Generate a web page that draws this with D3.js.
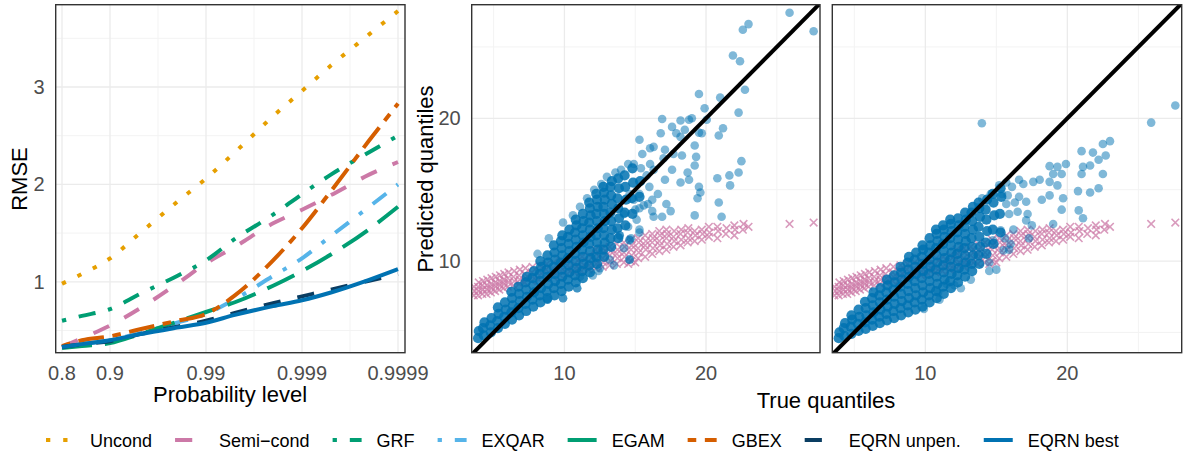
<!DOCTYPE html>
<html><head><meta charset="utf-8">
<script src="https://cdn.jsdelivr.net/npm/d3@7"></script>
<style>body{margin:0;background:#fff;} svg{display:block;font-family:"Liberation Sans",Arial,sans-serif;}</style>
</head><body><svg id="c" width="1186" height="455"></svg>
<script>
// ---------------- DATA ----------------
const levels = [0.8, 0.85, 0.9, 0.95, 0.98, 0.99, 0.995, 0.998, 0.999, 0.9995, 0.9998, 0.9999];
const seriesNames = ["Uncond", "Semi\u2212cond", "GRF", "EXQAR", "EGAM", "GBEX", "EQRN unpen.", "EQRN best"];
const uncond    = [0.98, 1.08, 1.24, 1.49, 1.82, 2.06, 2.33, 2.70, 2.96, 3.22, 3.54, 3.78];
const semicond  = [0.33, 0.42, 0.55, 0.72, 0.98, 1.19, 1.36, 1.60, 1.74, 1.89, 2.10, 2.23];
const grf       = [0.60, 0.65, 0.72, 0.87, 1.06, 1.22, 1.44, 1.69, 1.90, 2.10, 2.33, 2.50];
const exqar     = [0.33, 0.36, 0.40, 0.47, 0.58, 0.67, 0.82, 1.06, 1.24, 1.47, 1.77, 2.00];
const egam      = [0.32, 0.34, 0.37, 0.46, 0.59, 0.69, 0.79, 0.96, 1.11, 1.28, 1.54, 1.77];
const gbex      = [0.34, 0.40, 0.44, 0.51, 0.60, 0.67, 0.86, 1.22, 1.55, 1.93, 2.45, 2.83];
const eqrnUnpen = [0.33, 0.36, 0.39, 0.46, 0.54, 0.60, 0.68, 0.78, 0.85, 0.92, 1.01, 1.08];
const eqrnBest  = [0.33, 0.36, 0.40, 0.46, 0.53, 0.58, 0.66, 0.75, 0.81, 0.89, 1.02, 1.13];

const probTicks = [0.8, 0.9, 0.99, 0.999, 0.9999];
const probTickLabels = ["0.8", "0.9", "0.99", "0.999", "0.9999"];
const probMinor = [0.9683772, 0.9968377, 0.9996838];
const rmseTicks = [1, 2, 3];
const rmseMinor = [0.5, 1.5, 2.5, 3.5];
const qTicks = [10, 20];
const qMinor = [5, 15, 25];

// Semi-conditional predictions (true quantile, predicted quantile), shared by both panels
const semiPoints = [
[3.6,7.6],[3.65,7.9],[3.6,8.2],[3.9,7.6],[3.95,7.9],[3.9,8.2],[3.95,8.5],
[4.2,7.7],[4.25,8.0],[4.2,8.3],[4.25,8.6],[4.5,7.7],[4.55,8.0],[4.5,8.3],[4.55,8.7],
[4.8,7.8],[4.85,8.1],[4.8,8.4],[4.85,8.8],[5.1,7.9],[5.15,8.2],[5.1,8.5],[5.15,8.9],
[5.4,8.0],[5.45,8.3],[5.4,8.6],[5.45,9.0],[5.7,8.1],[5.75,8.4],[5.7,8.7],[5.75,9.1],
[6.0,8.2],[6.05,8.5],[6.0,8.8],[6.05,9.2],[6.4,8.3],[6.45,8.6],[6.4,8.9],[6.45,9.3],
[6.8,8.4],[6.85,8.7],[6.8,9.0],[6.85,9.4],[7.2,8.5],[7.25,8.8],[7.2,9.1],[7.25,9.5],
[7.7,8.6],[7.75,8.9],[7.7,9.2],[7.75,9.6],[8.2,8.7],[8.25,9.0],[8.2,9.3],[8.25,9.7],
[8.7,8.8],[8.75,9.1],[8.7,9.4],[8.75,9.8],[9.2,8.9],[9.25,9.2],[9.2,9.5],[9.25,9.9],
[9.7,9.0],[9.75,9.3],[9.7,9.6],[9.75,10.0],[10.2,9.1],[10.25,9.4],[10.2,9.7],[10.25,10.1],
[10.7,9.2],[10.75,9.5],[10.7,9.8],[10.75,10.2],[11.2,9.3],[11.25,9.6],[11.2,9.9],[11.25,10.3],
[11.7,9.4],[11.75,9.7],[11.7,10.0],[11.75,10.4],[12.2,9.5],[12.25,9.8],[12.2,10.1],[12.25,10.5],[12.2,10.8],
[12.7,9.6],[12.75,9.9],[12.7,10.2],[12.75,10.6],[12.7,10.9],[13.2,9.7],[13.25,10.0],[13.2,10.4],[13.25,10.7],[13.2,11.0],
[13.7,9.8],[13.75,10.2],[13.7,10.5],[13.75,10.8],[13.7,11.2],[14.2,9.9],[14.25,10.3],[14.2,10.6],[14.25,11.0],[14.2,11.3],
[14.7,10.0],[14.75,10.4],[14.7,10.8],[14.75,11.1],[14.7,11.5],[15.2,10.2],[15.25,10.6],[15.2,10.9],[15.25,11.3],[15.2,11.6],
[15.7,10.3],[15.75,10.8],[15.7,11.1],[15.75,11.4],[15.7,11.8],[16.2,10.5],[16.25,10.9],[16.2,11.3],[16.25,11.6],[16.2,11.9],
[16.7,10.7],[16.75,11.1],[16.7,11.4],[16.75,11.8],[16.7,12.1],[17.2,10.8],[17.25,11.2],[17.2,11.6],[17.25,11.9],[17.2,12.2],
[17.7,11.0],[17.75,11.4],[17.7,11.7],[17.75,12.1],[18.2,11.1],[18.25,11.5],[18.2,11.9],[18.25,12.2],
[18.7,11.3],[18.75,11.6],[18.7,12.0],[18.75,12.3],[19.2,11.4],[19.25,11.8],[19.2,12.1],
[19.7,11.5],[19.75,11.9],[19.7,12.2],[20.2,11.7],[20.25,12.0],[20.2,12.4],[20.8,11.6],[20.85,12.1],[20.8,12.4],
[21.4,11.9],[21.45,12.3],[22.0,11.8],[22.05,12.2],[22.0,12.5],[22.6,12.2],[22.65,12.6],[23.0,12.4],
[14.5,9.8],[15.0,9.9],[25.9,12.6],[27.6,12.7]
];

// EQRN predictions, middle panel: dense core and scattered points
const midCore = [
[3.9,4.6],[3.95,5.1],[4.3,4.8],[4.25,5.3],[4.35,5.7],[4.8,5.0],[4.75,5.5],[4.85,6.0],
[5.3,5.3],[5.25,5.8],[5.35,6.3],[5.3,6.75],[5.8,5.6],[5.75,6.1],[5.85,6.6],[5.8,7.1],
[6.3,5.9],[6.25,6.4],[6.35,6.9],[6.3,7.4],[6.25,7.85],[6.8,6.2],[6.75,6.7],[6.85,7.2],[6.8,7.7],[6.75,8.2],
[7.3,6.5],[7.25,7.0],[7.35,7.5],[7.3,8.0],[7.25,8.5],[7.35,8.9],[7.8,6.8],[7.75,7.3],[7.85,7.8],[7.8,8.3],[7.75,8.8],[7.85,9.3],
[8.3,7.1],[8.25,7.6],[8.35,8.1],[8.3,8.6],[8.25,9.1],[8.35,9.6],[8.3,10.0],
[8.8,7.4],[8.75,7.9],[8.85,8.4],[8.8,8.9],[8.75,9.4],[8.85,9.9],[8.8,10.4],
[9.3,7.6],[9.25,8.1],[9.35,8.6],[9.3,9.1],[9.25,9.6],[9.35,10.1],[9.3,10.6],[9.25,11.1],
[9.8,7.9],[9.75,8.4],[9.85,8.9],[9.8,9.4],[9.75,9.9],[9.85,10.4],[9.8,10.9],[9.75,11.4],[9.85,11.8],
[10.3,8.2],[10.25,8.7],[10.35,9.2],[10.3,9.7],[10.25,10.2],[10.35,10.7],[10.3,11.2],[10.25,11.7],[10.35,12.2],
[10.8,8.5],[10.75,9.0],[10.85,9.5],[10.8,10.0],[10.75,10.5],[10.85,11.0],[10.8,11.5],[10.75,12.0],[10.85,12.5],[10.8,12.9],
[11.3,8.8],[11.25,9.3],[11.35,9.8],[11.3,10.3],[11.25,10.8],[11.35,11.3],[11.3,11.8],[11.25,12.3],[11.35,12.8],[11.3,13.3],
[11.8,9.2],[11.75,9.7],[11.85,10.2],[11.8,10.7],[11.75,11.2],[11.85,11.7],[11.8,12.2],[11.75,12.7],[11.85,13.2],[11.8,13.7],[11.75,14.1],
[12.3,9.8],[12.25,10.3],[12.35,10.8],[12.3,11.3],[12.25,11.8],[12.35,12.3],[12.3,12.8],[12.25,13.3],[12.35,13.8],[12.3,14.3],[12.25,14.7],
[12.8,10.3],[12.75,10.8],[12.85,11.3],[12.8,11.8],[12.75,12.3],[12.85,12.8],[12.8,13.3],[12.75,13.8],[12.85,14.3],[12.8,14.8],[12.75,15.2],
[13.3,11.0],[13.25,11.6],[13.35,12.2],[13.3,12.8],[13.25,13.4],[13.35,14.0],[13.3,14.6],[13.25,15.2],[13.35,15.6],
[13.8,11.6],[13.75,12.3],[13.85,13.0],[13.8,13.7],[13.75,14.4],[13.85,15.1],[13.8,15.8],
[14.3,12.5],[14.25,13.4],[14.35,14.3],[14.3,15.2],[14.25,16.0],[14.8,13.3],[14.75,14.4],[14.85,15.5],[14.8,16.5],
[15.3,14.5],[15.35,15.6]
];
const midSparse = [
[8.1,10.5],[8.9,11.6],[9.9,12.7],[10.6,13.2],[11.1,13.8],[11.6,14.4],[12.1,15.0],[12.6,15.4],[13.0,15.9],[13.6,16.2],
[14.0,16.4],[14.5,16.8],[14.9,16.8],[15.4,16.5],[15.8,16.0],[14.2,13.3],[14.9,14.3],[15.3,14.7],[16.0,15.2],[14.6,14.7],
[15.0,13.6],[15.6,13.9],[16.2,14.3],[14.5,12.4],[15.1,12.9],[11.1,8.9],[12.5,9.5],[13.5,9.7],[12.0,9.0],[13.2,10.1],
[14.2,10.9],[14.7,11.6],[15.3,12.2],[13.9,11.8],[14.6,11.45],[14.6,10.1],[10.9,8.1],[9.9,7.4],[8.8,7.3],
[25.9,27.4],[23.0,26.6],[22.6,26.2],[27.6,26.1],[21.9,24.4],[22.4,24.0],[22.75,22.0],[19.5,21.7],[21.0,21.45],[19.9,20.7],
[22.3,20.4],[16.9,19.95],[18.2,19.85],[18.8,19.9],[19.0,20.0],[20.05,19.9],[17.6,19.4],[21.2,19.3],[18.5,19.2],[16.8,18.95],
[17.9,18.95],[18.2,18.7],[19.5,19.0],[20.9,18.8],[19.7,18.95],[15.3,18.5],[19.2,18.1],[15.5,17.5],[16.05,17.9],[16.3,18.0],
[17.1,17.8],[17.7,17.5],[18.3,17.4],[19.3,17.3],[19.2,16.7],[22.5,17.0],[17.0,17.2],[17.6,16.4],[16.05,16.8],[16.3,16.4],
[18.7,16.2],[20.8,15.8],[21.65,16.0],[22.3,16.2],[21.7,15.3],[17.1,15.7],[18.2,15.5],[18.8,15.7],[19.5,15.2],[19.6,14.8],
[19.4,14.4],[20.9,14.1],[21.1,13.1],[19.2,13.2],[17.2,14.0],[16.9,13.1],[17.5,13.5],[16.3,13.1],[16.6,14.7],[15.9,14.0],
[16.2,13.5],[15.3,13.7],[14.6,10.1],[13.9,11.8],[14.6,11.5],[15.3,12.0],[12.4,9.3],[10.9,8.1],[9.9,7.4],[8.8,7.3]
];

// EQRN predictions, right panel: dense core and scattered points
const rightCore = [
[3.9,4.6],[3.95,5.0],[4.3,4.75],[4.25,5.3],[4.35,5.65],[4.8,4.9],[4.75,5.4],[4.85,5.9],[4.8,6.2],
[5.3,5.1],[5.25,5.6],[5.35,6.1],[5.3,6.6],[5.8,5.25],[5.75,5.7],[5.85,6.2],[5.8,6.7],[5.75,7.15],
[6.3,5.45],[6.25,5.9],[6.35,6.4],[6.3,6.9],[6.25,7.4],[6.35,7.8],[6.8,5.65],[6.75,6.1],[6.85,6.6],[6.8,7.1],[6.75,7.6],[6.85,8.1],
[7.3,5.85],[7.25,6.3],[7.35,6.8],[7.3,7.3],[7.25,7.8],[7.35,8.3],[7.3,8.7],
[7.8,6.0],[7.75,6.5],[7.85,7.0],[7.8,7.5],[7.75,8.0],[7.85,8.5],[7.8,9.0],
[8.3,6.2],[8.25,6.7],[8.35,7.2],[8.3,7.7],[8.25,8.2],[8.35,8.7],[8.3,9.2],[8.25,9.6],
[8.8,6.4],[8.75,6.9],[8.85,7.4],[8.8,7.9],[8.75,8.4],[8.85,8.9],[8.8,9.4],[8.75,9.9],[8.85,10.3],
[9.3,6.6],[9.25,7.1],[9.35,7.6],[9.3,8.1],[9.25,8.6],[9.35,9.1],[9.3,9.6],[9.25,10.1],[9.35,10.6],
[9.8,6.8],[9.75,7.3],[9.85,7.8],[9.8,8.3],[9.75,8.8],[9.85,9.3],[9.8,9.8],[9.75,10.3],[9.85,10.8],[9.8,11.1],
[10.3,7.1],[10.25,7.6],[10.35,8.1],[10.3,8.6],[10.25,9.1],[10.35,9.6],[10.3,10.1],[10.25,10.6],[10.35,11.1],[10.3,11.6],
[10.8,7.4],[10.75,7.9],[10.85,8.4],[10.8,8.9],[10.75,9.4],[10.85,9.9],[10.8,10.4],[10.75,10.9],[10.85,11.4],[10.8,11.9],[10.75,12.2],
[11.3,7.7],[11.25,8.2],[11.35,8.7],[11.3,9.2],[11.25,9.7],[11.35,10.2],[11.3,10.7],[11.25,11.2],[11.35,11.7],[11.3,12.2],[11.25,12.5],
[11.8,8.1],[11.75,8.6],[11.85,9.1],[11.8,9.6],[11.75,10.1],[11.85,10.6],[11.8,11.1],[11.75,11.6],[11.85,12.1],[11.8,12.6],[11.75,12.9],
[12.3,8.5],[12.25,9.0],[12.35,9.5],[12.3,10.0],[12.25,10.5],[12.35,11.0],[12.3,11.5],[12.25,12.0],[12.35,12.5],[12.3,13.0],
[12.8,8.9],[12.75,9.4],[12.85,9.9],[12.8,10.4],[12.75,10.9],[12.85,11.4],[12.8,11.9],[12.75,12.4],[12.85,12.9],[12.8,13.4],
[13.3,9.3],[13.25,9.8],[13.35,10.4],[13.3,11.0],[13.25,11.6],[13.35,12.2],[13.3,12.8],[13.25,13.4],[13.35,13.8],
[13.8,9.8],[13.75,10.4],[13.85,11.0],[13.8,11.7],[13.75,12.4],[13.85,13.1],[13.8,13.7],[13.75,14.1],
[14.3,10.5],[14.25,11.3],[14.35,12.1],[14.3,12.9],[14.25,13.6],[14.35,14.3],
[14.8,11.2],[14.75,12.2],[14.85,13.2],[14.8,14.1],[14.75,14.7],[15.3,12.0],[15.25,13.3],[15.35,14.5],[15.3,15.1]
];
const rightSparse = [
[14.0,14.4],[14.6,14.7],[15.2,15.3],[15.7,15.5],[16.1,15.2],[16.6,15.7],[15.8,14.6],[16.3,14.1],[15.0,9.4],[14.5,9.9],
[13.2,8.7],[12.5,8.1],[11.0,7.3],[15.6,11.6],[16.2,12.2],[15.9,10.8],
[13.98,19.65],[27.6,20.9],[25.9,19.7],[23.0,18.4],[22.5,18.2],[22.7,17.4],[21.8,17.6],[21.0,17.7],[22.2,17.1],[21.6,16.7],
[22.5,16.1],[21.1,16.6],[21.0,16.1],[19.9,16.8],[19.3,16.6],[18.75,16.65],[19.6,16.1],[19.0,16.1],[18.75,15.55],[18.05,15.7],
[17.6,15.55],[16.9,15.4],[19.3,15.3],[20.75,14.9],[21.6,14.8],[22.2,15.1],[18.75,14.6],[18.2,14.3],[19.7,14.4],[17.1,14.15],
[16.6,14.5],[19.6,13.6],[20.8,13.55],[21.1,13.0],[17.2,13.3],[16.5,13.45],[17.1,12.85],[17.5,12.5],[19.0,12.6],[15.9,13.3],
[15.7,14.0],[15.4,14.7],[14.5,9.3],[9.9,6.65],[12.05,8.3],[11.5,8.4],[10.9,7.8],[14.75,11.45],[16.0,11.2],[15.5,10.75],
[17.3,11.6],[15.3,12.15]
];

// ---------------- CHART ----------------
const svg = d3.select("#c");
svg.append("rect").attr("width", 1186).attr("height", 455).attr("fill", "#fff");

const colors = ["#E69F00", "#CC79A7", "#009E73", "#56B4E9", "#009E73", "#D55E00", "#0A3D62", "#0072B2"];
const u = 4.3;
const dashes = [
  [u, 3*u].join(","),
  [4*u, 4*u].join(","),
  [u, 3*u, 4*u, 3*u].join(","),
  [u, 3*u, 4*u, 3*u].join(","),
  [7*u, 3*u].join(","),
  [2*u, 2*u, 6*u, 2*u].join(","),
  [4*u, 4*u].join(","),
  null
];
const allSeries = [uncond, semicond, grf, exqar, egam, gbex, eqrnUnpen, eqrnBest];

const yTop = 4.7, yBot = 352.7;
const gridMajor = "#EBEBEB", gridMinor = "#F3F3F3";
const tickColor = "#4D4D4D";

// ---- Left panel ----
const LP = {x0: 55.7, x1: 405};
const tr = p => -Math.log10(1 - p);
const xL = d3.scaleLinear().domain([tr(0.8), tr(0.9), tr(0.9999)]).range([62, 110, 398]);
const yL = d3.scaleLinear().domain([0.272, 3.845]).range([yBot, yTop]);

const gl = svg.append("g");
svg.append("clipPath").attr("id", "clipL").append("rect")
  .attr("x", LP.x0).attr("y", yTop).attr("width", LP.x1 - LP.x0).attr("height", yBot - yTop);

gl.selectAll(".hmin").data(rmseMinor).enter().append("line")
  .attr("x1", LP.x0).attr("x2", LP.x1).attr("y1", d => yL(d)).attr("y2", d => yL(d))
  .attr("stroke", gridMinor).attr("stroke-width", 1);
gl.selectAll(".vmin").data(probMinor).enter().append("line")
  .attr("y1", yTop).attr("y2", yBot).attr("x1", d => xL(tr(d))).attr("x2", d => xL(tr(d)))
  .attr("stroke", gridMinor).attr("stroke-width", 1);
gl.selectAll(".hmaj").data(rmseTicks).enter().append("line")
  .attr("x1", LP.x0).attr("x2", LP.x1).attr("y1", d => yL(d)).attr("y2", d => yL(d))
  .attr("stroke", gridMajor).attr("stroke-width", 1.3);
gl.selectAll(".vmaj").data(probTicks).enter().append("line")
  .attr("y1", yTop).attr("y2", yBot).attr("x1", d => xL(tr(d))).attr("x2", d => xL(tr(d)))
  .attr("stroke", gridMajor).attr("stroke-width", 1.3);

const lineGen = d3.line().x((d, i) => xL(tr(levels[i]))).y(d => yL(d)).curve(d3.curveMonotoneX);
const linesG = gl.append("g").attr("clip-path", "url(#clipL)");
allSeries.forEach((s, k) => {
  linesG.append("path").attr("d", lineGen(s)).attr("fill", "none")
    .attr("stroke", colors[k]).attr("stroke-width", 4)
    .attr("stroke-dasharray", dashes[k]).attr("stroke-linecap", "butt");
});
gl.append("rect").attr("x", LP.x0).attr("y", yTop).attr("width", LP.x1 - LP.x0).attr("height", yBot - yTop)
  .attr("fill", "none").attr("stroke", "#333").attr("stroke-width", 1.4);

gl.selectAll(".ylab").data(rmseTicks).enter().append("text")
  .attr("x", LP.x0 - 11).attr("y", d => yL(d) + 7).attr("text-anchor", "end")
  .attr("font-size", 20).attr("fill", tickColor).text(d => d);
gl.selectAll(".xlab").data(probTicks).enter().append("text")
  .attr("x", d => xL(tr(d))).attr("y", 380).attr("text-anchor", "middle")
  .attr("font-size", 20).attr("fill", tickColor).text((d, i) => probTickLabels[i]);
gl.append("text").attr("x", 230).attr("y", 402).attr("text-anchor", "middle")
  .attr("font-size", 22).attr("fill", "#000").text("Probability level");
gl.append("text").attr("transform", "translate(26.5,179) rotate(-90)").attr("text-anchor", "middle")
  .attr("font-size", 22).attr("fill", "#000").text("RMSE");

// ---- Scatter panels ----
const panels = [
  {x0: 471.7, x1: 820, core: midCore, sparse: midSparse, id: "clipM", ylabels: true},
  {x0: 832.3, x1: 1181.7, core: rightCore, sparse: rightSparse, id: "clipR", ylabels: false}
];
const yS = d3.scaleLinear().domain([3.58, 27.96]).range([yBot, yTop]);
const crossPath = "M-3.8,-3.8L3.8,3.8M-3.8,3.8L3.8,-3.8";

panels.forEach(P => {
  const xS = d3.scaleLinear().domain([3.45, 28.05]).range([P.x0, P.x1]);
  const g = svg.append("g");
  svg.append("clipPath").attr("id", P.id).append("rect")
    .attr("x", P.x0).attr("y", yTop).attr("width", P.x1 - P.x0).attr("height", yBot - yTop);
  g.selectAll(".hm").data(qMinor).enter().append("line")
    .attr("x1", P.x0).attr("x2", P.x1).attr("y1", d => yS(d)).attr("y2", d => yS(d))
    .attr("stroke", gridMinor).attr("stroke-width", 1);
  g.selectAll(".vm").data(qMinor).enter().append("line")
    .attr("y1", yTop).attr("y2", yBot).attr("x1", d => xS(d)).attr("x2", d => xS(d))
    .attr("stroke", gridMinor).attr("stroke-width", 1);
  g.selectAll(".hM").data(qTicks).enter().append("line")
    .attr("x1", P.x0).attr("x2", P.x1).attr("y1", d => yS(d)).attr("y2", d => yS(d))
    .attr("stroke", gridMajor).attr("stroke-width", 1.3);
  g.selectAll(".vM").data(qTicks).enter().append("line")
    .attr("y1", yTop).attr("y2", yBot).attr("x1", d => xS(d)).attr("x2", d => xS(d))
    .attr("stroke", gridMajor).attr("stroke-width", 1.3);

  const inner = g.append("g").attr("clip-path", `url(#${P.id})`);
  inner.selectAll(".cross").data(semiPoints).enter().append("path")
    .attr("d", crossPath).attr("transform", d => `translate(${xS(d[0])},${yS(d[1])})`)
    .attr("fill", "none").attr("stroke", "#CC79A7").attr("stroke-width", 1.6).attr("stroke-opacity", 0.75);
  inner.selectAll(".sp").data(P.sparse).enter().append("circle")
    .attr("cx", d => xS(d[0])).attr("cy", d => yS(d[1])).attr("r", 4.3)
    .attr("fill", "#0072B2").attr("fill-opacity", 0.5);
  inner.selectAll(".cp").data(P.core).enter().append("circle")
    .attr("cx", d => xS(d[0])).attr("cy", d => yS(d[1])).attr("r", 5.1)
    .attr("fill", "#0072B2").attr("fill-opacity", 0.85);
  const dmin = 3.45, dmax = 28.05;
  inner.append("line").attr("x1", xS(dmin)).attr("y1", yS(dmin)).attr("x2", xS(dmax)).attr("y2", yS(dmax))
    .attr("stroke", "#000").attr("stroke-width", 4);

  g.append("rect").attr("x", P.x0).attr("y", yTop).attr("width", P.x1 - P.x0).attr("height", yBot - yTop)
    .attr("fill", "none").attr("stroke", "#333").attr("stroke-width", 1.4);
  g.selectAll(".xl").data(qTicks).enter().append("text")
    .attr("x", d => xS(d)).attr("y", 380).attr("text-anchor", "middle")
    .attr("font-size", 20).attr("fill", tickColor).text(d => d);
  if (P.ylabels) {
    g.selectAll(".yl").data(qTicks).enter().append("text")
      .attr("x", P.x0 - 11).attr("y", d => yS(d) + 7).attr("text-anchor", "end")
      .attr("font-size", 20).attr("fill", tickColor).text(d => d);
  }
});
svg.append("text").attr("x", 826).attr("y", 408).attr("text-anchor", "middle")
  .attr("font-size", 22).attr("fill", "#000").text("True quantiles");
svg.append("text").attr("transform", "translate(433,179) rotate(-90)").attr("text-anchor", "middle")
  .attr("font-size", 22).attr("fill", "#000").text("Predicted quantiles");

// ---- Legend ----
const lg = svg.append("g");
let lx = 46;
seriesNames.forEach((name, k) => {
  lg.append("line").attr("x1", lx).attr("x2", lx + 29).attr("y1", 440).attr("y2", 440)
    .attr("stroke", colors[k]).attr("stroke-width", 4).attr("stroke-dasharray", dashes[k]);
  const t = lg.append("text").attr("x", lx + 44).attr("y", 447.3).attr("font-size", 18)
    .attr("fill", "#000").text(name);
  const w = t.node().getComputedTextLength();
  lx = lx + 44 + w + 23;
});
</script>
</body></html>
